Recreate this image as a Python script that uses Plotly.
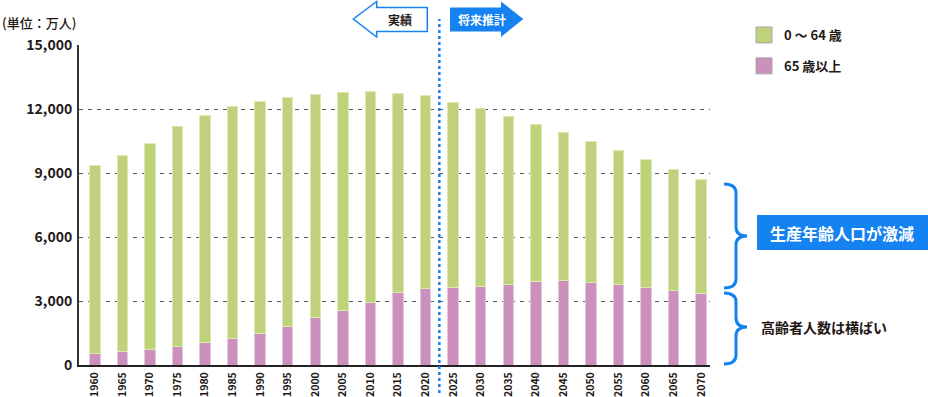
import plotly.graph_objects as go

# ---- data (万人) ----
years = ["1960", "1965", "1970", "1975", "1980", "1985", "1990", "1995", "2000",
         "2005", "2010", "2015", "2020", "2025", "2030", "2035", "2040", "2045",
         "2050", "2055", "2060", "2065", "2070"]
age_0_64 = [8807, 9204, 9633, 10307, 10641, 10858, 10872, 10731, 10489,
            10201, 9858, 9322, 9012, 8673, 8316, 7891, 7356, 6935,
            6581, 6272, 5971, 5655, 5333]
age_65_plus = [535, 624, 739, 887, 1065, 1247, 1489, 1826, 2204,
               2576, 2948, 3387, 3603, 3653, 3696, 3773, 3928, 3945,
               3888, 3779, 3644, 3504, 3367]
series_names = ["0 〜 64 歳", "65 歳以上"]
y_ticks = [0, 3000, 6000, 9000, 12000, 15000]

GREEN = "#BFD27B"
PINK = "#CC90BC"
BLUE = "#1482F0"
DARK = "#231815"
FONT = "Noto Sans CJK JP"

W, H = 928, 397
L, R, T, B = 79, 710, 45, 365


def px(x):
    return (x - L) / (R - L)


def py(y):
    return (B - y) / (B - T)


fig = go.Figure()
fig.add_trace(go.Bar(x=years, y=age_65_plus, name=series_names[1], marker=dict(color=PINK, line=dict(color="#E6C6DD", width=1)),
                     width=0.38, showlegend=False))
fig.add_trace(go.Bar(x=years, y=age_0_64, name=series_names[0], marker=dict(color=GREEN, line=dict(color="#DDE8B2", width=1)),
                     width=0.38, showlegend=False))

# legend entries (square swatches)
for i, (nm, col) in enumerate([(series_names[0], GREEN), (series_names[1], PINK)]):
    fig.add_trace(go.Scatter(x=[None], y=[None], mode="markers", name=nm, legendgroup=f"g{i}",
                             marker=dict(symbol="square", size=16, color=col, line=dict(color="#A8A8A8", width=1))))

shapes = []
# separator dotted line between 2020 and 2025
shapes.append(dict(type="line", xref="x", yref="paper", x0=12.5, x1=12.5, y0=py(393), y1=py(19),
                   line=dict(color=BLUE, width=2.5, dash="dot")))


def poly(points):
    return "M " + " L ".join(f"{px(x):.5f},{py(y):.5f}" for x, y in points) + " Z"


# 実績 arrow (outline, pointing left)
shapes.append(dict(type="path", xref="paper", yref="paper",
                   path=poly([(353.3, 19), (376.7, 1.5), (376.7, 7.5), (427.3, 7.5), (427.3, 31.5),
                              (376.7, 31.5), (376.7, 37)]),
                   line=dict(color=BLUE, width=1.5), fillcolor="white"))
# 将来推計 arrow (filled, pointing right)
shapes.append(dict(type="path", xref="paper", yref="paper",
                   path=poly([(450, 7.5), (501, 7.5), (501, 1.5), (523.3, 19), (501, 37), (501, 31.5),
                              (450, 31.5)]),
                   line=dict(color=BLUE, width=0), fillcolor=BLUE))


def brace(xl, xm, xt, yt, yb, ym, r=9):
    pts = [
        f"M {px(xl):.5f},{py(yt):.5f}",
        f"Q {px(xm):.5f},{py(yt):.5f} {px(xm):.5f},{py(yt + r):.5f}",
        f"L {px(xm):.5f},{py(ym - r):.5f}",
        f"Q {px(xm):.5f},{py(ym):.5f} {px(xt):.5f},{py(ym):.5f}",
        f"Q {px(xm):.5f},{py(ym):.5f} {px(xm):.5f},{py(ym + r):.5f}",
        f"L {px(xm):.5f},{py(yb - r):.5f}",
        f"Q {px(xm):.5f},{py(yb):.5f} {px(xl):.5f},{py(yb):.5f}",
    ]
    return " ".join(pts)


shapes.append(dict(type="path", xref="paper", yref="paper", path=brace(724, 736, 747, 184, 288, 236),
                   line=dict(color=BLUE, width=3)))
shapes.append(dict(type="path", xref="paper", yref="paper", path=brace(724, 736, 747, 293, 364, 327),
                   line=dict(color=BLUE, width=3)))
# blue label box
shapes.append(dict(type="rect", xref="paper", yref="paper", x0=px(757), x1=px(928), y0=py(250), y1=py(215),
                   line=dict(width=0), fillcolor=BLUE))

annotations = [
    dict(text="(単位：万人)", xref="paper", yref="paper", x=px(0), y=py(23), xanchor="left", yanchor="middle",
         showarrow=False, font=dict(family=FONT, size=13, color=DARK, weight=500)),
    dict(text="実績", xref="paper", yref="paper", x=px(400), y=py(19.5), xanchor="center", yanchor="middle",
         showarrow=False, font=dict(family=FONT, size=12, color=DARK, weight="bold")),
    dict(text="将来推計", xref="paper", yref="paper", x=px(482), y=py(19.5), xanchor="center", yanchor="middle",
         showarrow=False, font=dict(family=FONT, size=12, color="white", weight="bold")),
    dict(text="生産年齢人口が激減", xref="paper", yref="paper", x=px(842), y=py(233), xanchor="center",
         yanchor="middle", showarrow=False, font=dict(family=FONT, size=16, color="white", weight="bold")),
    dict(text="高齢者人数は横ばい", xref="paper", yref="paper", x=px(759), y=py(327), xanchor="left",
         yanchor="middle", showarrow=False, font=dict(family=FONT, size=14, color=DARK, weight="bold")),
]

fig.update_layout(
    width=W, height=H,
    margin=dict(l=L, r=W - R, t=T, b=H - B, pad=0, autoexpand=False),
    barmode="stack",
    plot_bgcolor="white", paper_bgcolor="white",
    font=dict(family=FONT, color=DARK),
    shapes=shapes,
    annotations=annotations,
    showlegend=True,
    legend=dict(x=px(744), y=py(20), xanchor="left", yanchor="top", xref="paper", yref="paper",
                font=dict(family=FONT, size=13, color=DARK, weight="bold"),
                tracegroupgap=11, traceorder="grouped", bgcolor="rgba(0,0,0,0)", itemsizing="trace"),
    xaxis=dict(type="category", range=[-0.573, 22.32], showgrid=False, showline=True, linecolor="#222222",
               linewidth=2, ticks="", tickangle=-90, ticklabelstandoff=1, automargin=False,
               tickfont=dict(family=FONT, size=10.5, color=DARK, weight="bold"), fixedrange=True),
    yaxis=dict(range=[0, 15000], tickvals=y_ticks, tickformat=",", showgrid=True, gridcolor="#5A5A5A",
               gridwidth=1, griddash="4px,5px", showline=True, linecolor="#333333", linewidth=2,
               zeroline=False, ticks="", ticklabelstandoff=2, automargin=False,
               tickfont=dict(family=FONT, size=14, color=DARK, weight="bold"), fixedrange=True),
)

fig.write_html("out.html", config={"displayModeBar": False},
               post_script="document.body.style.margin='0';document.body.style.overflow='hidden';")
